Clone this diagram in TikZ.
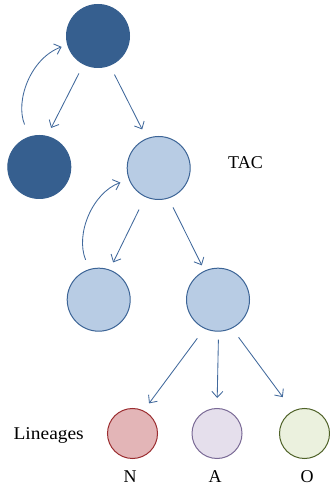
\documentclass[tikz,border=0pt]{standalone}
\usepackage{fontspec}
\setmainfont{Liberation Serif}
\usetikzlibrary{arrows.meta}
\definecolor{darkb}{HTML}{365F8F}
\definecolor{lightb}{HTML}{B8CCE4}
\definecolor{edgeb}{HTML}{3C6496}
\definecolor{arrb}{HTML}{41699C}
\definecolor{redf}{HTML}{E3B5B7}
\definecolor{rede}{HTML}{9B2D30}
\definecolor{purf}{HTML}{E5DFEC}
\definecolor{pure}{HTML}{7A6A96}
\definecolor{grnf}{HTML}{EBF1DE}
\definecolor{grne}{HTML}{4F6228}
\begin{document}
\begin{tikzpicture}[x=1pt,y=1pt,
  bigc/.style={circle,minimum size=63pt,inner sep=0pt,line width=1pt},
  darkc/.style={bigc,fill=darkb,draw=darkb},
  lightc/.style={bigc,fill=lightb,draw=edgeb},
  smallc/.style={circle,minimum size=50pt,inner sep=0pt,line width=1pt},
  arr/.style={draw=arrb,line width=0.85pt,-{Straight Barb[length=6pt,width=11pt]}},
  lbl/.style={font=\fontsize{18}{21}\selectfont,inner sep=0pt}]
\useasboundingbox (0,0) rectangle (329,486);
\node[darkc] (top) at (98,450) {};
\node[darkc] (dl) at (39.3,319) {};
\node[lightc] (tac) at (158.7,318) {};
\node[lightc] (ll) at (98.7,186.3) {};
\node[lightc] (lr) at (218,186.3) {};
\node[smallc,fill=redf,draw=rede] (N) at (132.5,52.5) {};
\node[smallc,fill=purf,draw=pure] (A) at (217,52.5) {};
\node[smallc,fill=grnf,draw=grne] (O) at (304.5,52.5) {};
\node[lbl] (taclbl) at (245.5,323) {TAC};
\node[lbl,xscale=1.08] (lin) at (48.7,51) {Lineages};
\node[lbl] (nl) at (130,9) {N};
\node[lbl] (al) at (215,9) {A};
\node[lbl] (ol) at (307,9) {O};
% arrows
\draw[arr,shorten <=10pt,shorten >=9pt] (top.243) -- (dl.76);
\draw[arr,shorten <=10pt,shorten >=10pt] (top.292) -- (tac.112);
\draw[arr,shorten <=13pt,shorten >=6pt] (dl.108) to[out=112,in=200] (top.196);
\draw[arr,shorten <=14pt,shorten >=8pt] (tac.245) -- (ll.70);
\draw[arr,shorten <=10pt,shorten >=6pt] (tac.288) -- (lr.115);
\draw[arr,shorten <=10pt,shorten >=9pt] (ll.107) to[out=112,in=200] (tac.201);
\draw[arr,shorten <=12pt,shorten >=9pt] (lr.245) -- (N.64);
\draw[arr,shorten <=8pt,shorten >=10pt] (lr.271) -- (A.90);
\draw[arr,shorten <=11pt,shorten >=17pt] (lr.296) -- (O.117);
\end{tikzpicture}
\end{document}
